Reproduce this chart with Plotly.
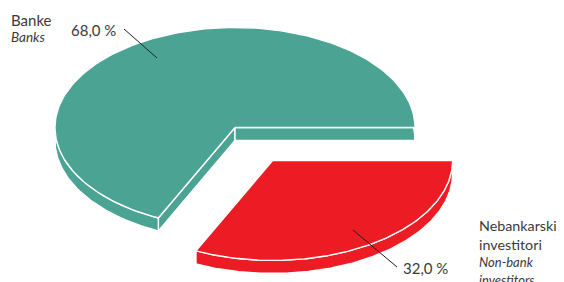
import numpy as np
import plotly.graph_objects as go

# ---- data ----
categories = ["Nebankarski investitori", "Banke"]
categories_en = ["Non-bank investitors", "Banks"]
values = [32.0, 68.0]
value_labels = ["32,0 %", "68,0 %"]
colors = ["#ed1c24", "#4ba493"]

# ---- geometry of the tilted pie (pixel space) ----
CX, CY = 235.0, 127.5
A, B = 180.0, 100.0
DEPTH = 13.0
PULL = [0.39, 0.0]

total = sum(values)
starts, ends = [], []
acc = 0.0
for v in values:
    starts.append(2 * np.pi * acc / total)
    acc += v
    ends.append(2 * np.pi * acc / total)


def pt(t, ox, oy, dz=0.0):
    return ox + A * np.cos(t), oy + B * np.sin(t) + dz


fig = go.Figure()


def poly(xs, ys, color):
    fig.add_trace(go.Scatter(x=list(xs), y=list(ys), mode="lines", fill="toself",
                             fillcolor=color, line=dict(color="white", width=1.4),
                             hoverinfo="skip", showlegend=False))


# draw teal (back) first, then red (front)
for i in [1, 0]:
    s, e = starts[i], ends[i]
    mid = (s + e) / 2
    ox = CX + A * PULL[i] * np.cos(mid)
    oy = CY + B * PULL[i] * np.sin(mid)
    ts = np.linspace(s, e, 200)
    col = colors[i]
    # cut faces
    for t in [s, e]:
        x1, y1 = pt(t, ox, oy)
        poly([ox, x1, x1, ox, ox], [oy, y1, y1 + DEPTH, oy + DEPTH, oy], col)
    # rim
    tx = ox + A * np.cos(ts)
    ty = oy + B * np.sin(ts)
    poly(np.concatenate([tx, tx[::-1], tx[:1]]),
         np.concatenate([ty, ty[::-1] + DEPTH, ty[:1]]), col)
    # top face
    poly(np.concatenate([[ox], tx, [ox]]), np.concatenate([[oy], ty, [oy]]), col)

# ---- labels ----
FONT = "Lato"
TXT = "#3a3a3a"
ann = []


def label(x, y, text, size, italic=False, anchor="left"):
    ann.append(dict(x=x, y=y, xref="x", yref="y", text=text, showarrow=False,
                    xanchor=anchor, yanchor="middle",
                    font=dict(family=FONT, size=size, color=TXT,
                              style="italic" if italic else "normal")))


label(9, 20, categories[1], 15)
label(9, 37, categories_en[1], 13.5, italic=True)
label(69, 30, value_labels[1], 15)

label(477, 225, categories[0].split(" ")[0], 14.3)
label(477, 244, categories[0].split(" ")[1], 14.3)
label(477, 262, categories_en[0].split(" ")[0], 13, italic=True)
label(477, 280, categories_en[0].split(" ")[1], 13, italic=True)
label(401, 268, value_labels[0], 15)

fig.update_layout(annotations=ann)

# leader lines
fig.add_trace(go.Scatter(x=[124, 157], y=[29, 58], mode="lines",
                         line=dict(color="#222222", width=1), hoverinfo="skip", showlegend=False))
fig.add_trace(go.Scatter(x=[353, 397], y=[230, 267], mode="lines",
                         line=dict(color="#222222", width=1), hoverinfo="skip", showlegend=False))

# the page body has an 8px margin: the figure starts at page pixel 8
fig.update_layout(
    width=556, height=274, autosize=False,
    margin=dict(l=0, r=0, t=0, b=0),
    paper_bgcolor="white", plot_bgcolor="white",
    xaxis=dict(range=[8, 564], visible=False, fixedrange=True),
    yaxis=dict(range=[282, 8], visible=False, fixedrange=True),
)

fig.write_html("out.html")
